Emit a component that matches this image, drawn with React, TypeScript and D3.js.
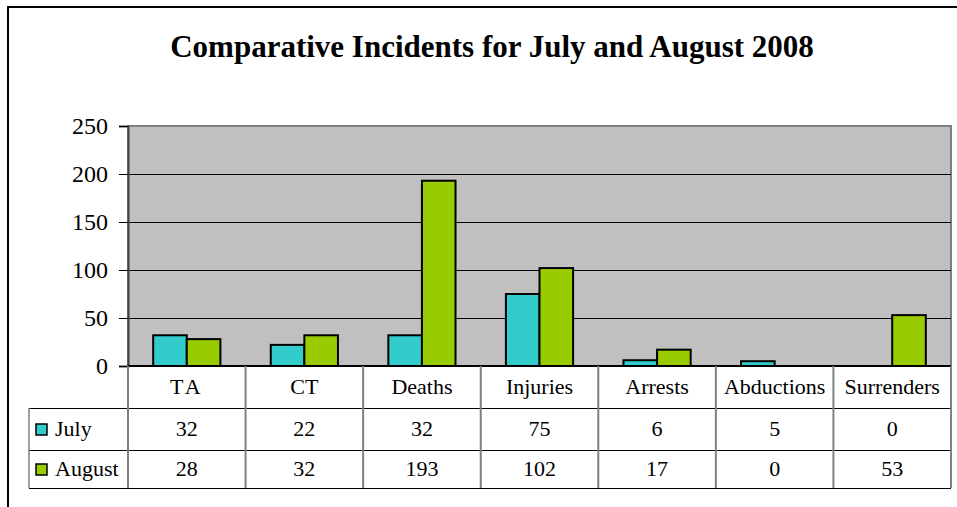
import React, { useRef, useEffect } from "react";
import * as d3 from "d3";

const title = "Comparative Incidents for July and August 2008";
const categories = ["TA", "CT", "Deaths", "Injuries", "Arrests", "Abductions", "Surrenders"];
const seriesNames = ["July", "August"];
const julyValues = [32, 22, 32, 75, 6, 5, 0];
const augustValues = [28, 32, 193, 102, 17, 0, 53];
const yTicks = [0, 50, 100, 150, 200, 250];
const colors = ["#33CCCC", "#99CC00"];

const App = () => {
  const svgRef = useRef<SVGSVGElement | null>(null);

  useEffect(() => {
    const width = 957;
    const height = 507;
    const plot = { left: 128, right: 951, top: 126, bottom: 366 };
    const rowTop = [366, 408, 450, 488]; // table row boundaries
    const legendLeft = 29;
    const font = "'Liberation Serif', 'Times New Roman', serif";

    const svg = d3.select(svgRef.current).attr("width", width).attr("height", height);
    svg.selectAll("*").remove();

    svg.append("rect").attr("width", width).attr("height", height).attr("fill", "#fff");
    // outer chart border (right/bottom sit off-canvas)
    svg
      .append("rect")
      .attr("x", 8)
      .attr("y", 7)
      .attr("width", 970)
      .attr("height", 520)
      .attr("fill", "none")
      .attr("stroke", "#000")
      .attr("stroke-width", 2);

    svg
      .append("text")
      .attr("x", 492)
      .attr("y", 57)
      .attr("text-anchor", "middle")
      .style("font-family", font)
      .style("font-weight", "bold")
      .style("font-size", "31px")
      .text(title);

    const x = d3.scaleBand().domain(categories).range([plot.left, plot.right]);
    const sub = d3
      .scaleBand()
      .domain(seriesNames)
      .range([0, x.bandwidth()])
      .paddingInner(0)
      .paddingOuter(0.75);
    const y = d3.scaleLinear().domain([0, 250]).range([plot.bottom, plot.top]);

    // plot background
    svg
      .append("rect")
      .attr("x", plot.left)
      .attr("y", plot.top)
      .attr("width", plot.right - plot.left)
      .attr("height", plot.bottom - plot.top)
      .attr("fill", "#C0C0C0")
      .attr("stroke", "#808080")
      .attr("stroke-width", 2);

    // gridlines
    svg
      .append("g")
      .selectAll("line")
      .data(yTicks.filter((t) => t > 0 && t < 250))
      .join("line")
      .attr("x1", plot.left)
      .attr("x2", plot.right)
      .attr("y1", (d) => y(d) + 0.5)
      .attr("y2", (d) => y(d) + 0.5)
      .attr("stroke", "#000")
      .attr("stroke-width", 1)
      .attr("shape-rendering", "crispEdges");

    // y axis
    const yAxis = svg
      .append("g")
      .attr("transform", `translate(${plot.left},0)`)
      .call(d3.axisLeft(y).tickValues(yTicks).tickSize(9).tickPadding(11));
    yAxis.select(".domain").attr("stroke", "#404040").attr("stroke-width", 2);
    yAxis.selectAll(".tick line").attr("stroke", "#000").attr("shape-rendering", "crispEdges");
    yAxis
      .selectAll("text")
      .attr("fill", "#000")
      .style("font-family", font)
      .style("font-size", "24px");

    // bars
    const series = [julyValues, augustValues];
    series.forEach((vals, si) => {
      svg
        .append("g")
        .selectAll("rect")
        .data(categories)
        .join("rect")
        .filter((_, i) => vals[i] > 0)
        .attr("x", (d) => (x(d) ?? 0) + (sub(seriesNames[si]) ?? 0))
        .attr("y", (d) => y(vals[categories.indexOf(d)]))
        .attr("width", sub.bandwidth())
        .attr("height", (d) => plot.bottom - y(vals[categories.indexOf(d)]))
        .attr("fill", colors[si])
        .attr("stroke", "#000")
        .attr("stroke-width", 2);
    });

    // data table
    const table = svg.append("g");
    // horizontal lines
    table
      .append("line")
      .attr("x1", plot.left)
      .attr("x2", plot.right)
      .attr("y1", rowTop[0])
      .attr("y2", rowTop[0])
      .attr("stroke", "#000")
      .attr("stroke-width", 2);
    rowTop.slice(1).forEach((ry) => {
      table
        .append("line")
        .attr("x1", legendLeft)
        .attr("x2", plot.right)
        .attr("y1", ry + 0.5)
        .attr("y2", ry + 0.5)
        .attr("stroke", "#000")
        .attr("stroke-width", 1.5)
        .attr("shape-rendering", "crispEdges");
    });
    // vertical lines
    const boundaries = categories.map((c) => x(c) ?? 0).concat([plot.right]);
    boundaries.forEach((bx) => {
      table
        .append("line")
        .attr("x1", bx)
        .attr("x2", bx)
        .attr("y1", rowTop[0])
        .attr("y2", rowTop[3])
        .attr("stroke", "#808080")
        .attr("stroke-width", 2);
    });
    table
      .append("line")
      .attr("x1", legendLeft)
      .attr("x2", legendLeft)
      .attr("y1", rowTop[1])
      .attr("y2", rowTop[3])
      .attr("stroke", "#808080")
      .attr("stroke-width", 1.5);

    // category labels
    table
      .selectAll("text.cat")
      .data(categories)
      .join("text")
      .attr("class", "cat")
      .attr("x", (d) => (x(d) ?? 0) + x.bandwidth() / 2)
      .attr("y", (rowTop[0] + rowTop[1]) / 2 + 7)
      .attr("text-anchor", "middle")
      .style("font-family", font)
      .style("font-size", "22px")
      .style("letter-spacing", (d) => (d === "TA" ? "3px" : "0px"))
      .text((d) => d);

    // value rows + legend
    series.forEach((vals, si) => {
      const cy = (rowTop[si + 1] + rowTop[si + 2]) / 2;
      table
        .append("g")
        .selectAll("text")
        .data(vals)
        .join("text")
        .attr("x", (_, i) => (x(categories[i]) ?? 0) + x.bandwidth() / 2)
        .attr("y", cy + 7)
        .attr("text-anchor", "middle")
        .style("font-family", font)
        .style("font-size", "22px")
        .text((d) => d);
      table
        .append("rect")
        .attr("x", 36)
        .attr("y", cy - 5)
        .attr("width", 11)
        .attr("height", 11)
        .attr("fill", colors[si])
        .attr("stroke", "#000")
        .attr("stroke-width", 1.5);
      table
        .append("text")
        .attr("x", 55)
        .attr("y", cy + 7)
        .style("font-family", font)
        .style("font-size", "22px")
        .text(seriesNames[si]);
    });
  }, []);

  return (
    <div style={{ position: "absolute", left: 0, top: 0 }}>
      <svg ref={svgRef} style={{ display: "block" }} />
    </div>
  );
};

export default App;
